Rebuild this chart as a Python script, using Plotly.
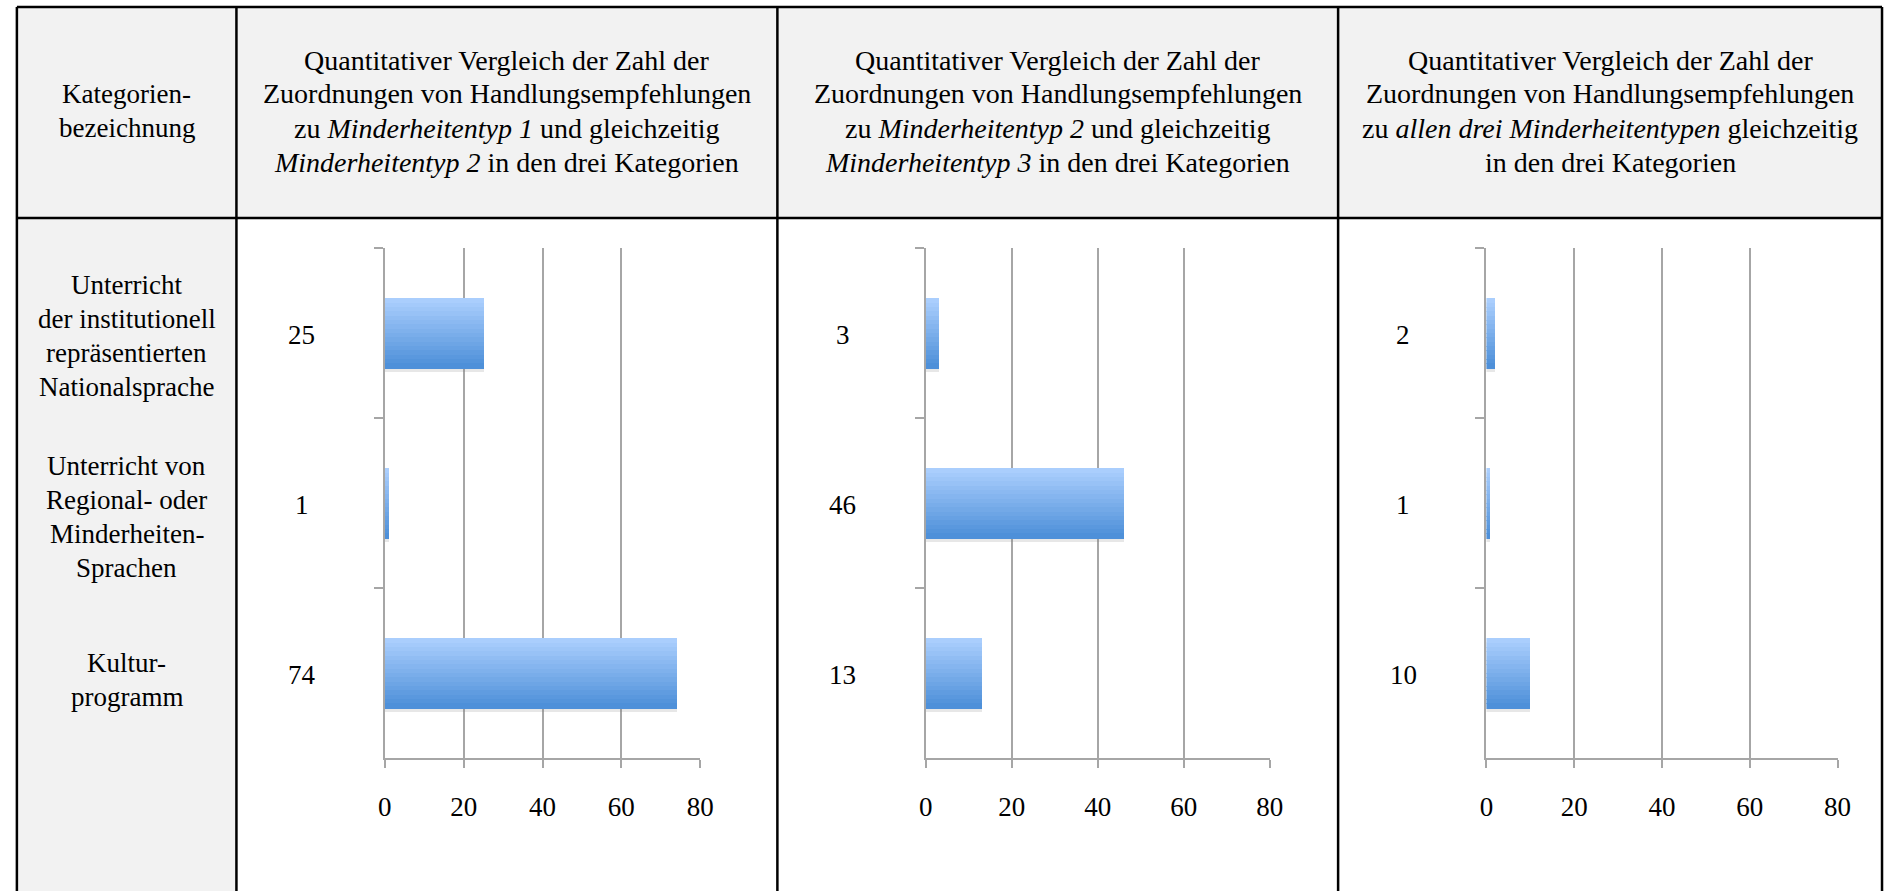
import plotly.graph_objects as go
from plotly.subplots import make_subplots

# data
categories = ['Unterricht der institutionell repräsentierten Nationalsprache',
              'Unterricht von Regional- oder Minderheiten-Sprachen',
              'Kulturprogramm']
typ_1_und_2 = [25, 1, 74]
typ_2_und_3 = [3, 46, 13]
alle_drei = [2, 1, 10]

row_labels = [['Unterricht', 'der institutionell', 'repräsentierten', 'Nationalsprache'],
              ['Unterricht von', 'Regional- oder', 'Minderheiten-', 'Sprachen'],
              ['Kultur-', 'programm']]
head_first = ['Kategorien-', 'bezeichnung']
head_titles = [
    ['Quantitativer Vergleich der Zahl der', 'Zuordnungen von Handlungsempfehlungen',
     'zu <i>Minderheitentyp 1</i> und gleichzeitig', '<i>Minderheitentyp 2</i> in den drei Kategorien'],
    ['Quantitativer Vergleich der Zahl der', 'Zuordnungen von Handlungsempfehlungen',
     'zu <i>Minderheitentyp 2</i> und gleichzeitig', '<i>Minderheitentyp 3</i> in den drei Kategorien'],
    ['Quantitativer Vergleich der Zahl der', 'Zuordnungen von Handlungsempfehlungen',
     'zu <i>allen drei Minderheitentypen</i> gleichzeitig', 'in den drei Kategorien'],
]
x_ticks = [0, 20, 40, 60, 80]

W, H = 1898, 891
FONT = '"Liberation Serif", "Times New Roman", Times, "DejaVu Serif", serif'
GRID = '#a6a6a6'

# pixel layout of the table / plots
col_edges = [10, 232, 779, 1346, 1896]
table_top, head_bottom = 7, 218
plot_x = [(382, 701), (929, 1277), (1496, 1851)]
plot_top, plot_bottom = 248, 758


def px(x):
    return x / W


def py(y):
    return 1 - y / H


fig = make_subplots(rows=1, cols=3)

series = [typ_1_und_2, typ_2_und_3, alle_drei]
bar_w = 0.41
n_strips = 16
top_rgb = (170, 206, 253)
bot_rgb = (78, 144, 217)

for k, vals in enumerate(series):
    col = k + 1
    # soft shadow under each bar
    fig.add_trace(go.Bar(x=vals, y=categories, orientation='h', width=bar_w, offset=-bar_w / 2 + 0.025,
                         marker=dict(color='rgba(120,120,120,0.18)', line_width=0),
                         showlegend=False, hoverinfo='skip'), row=1, col=col)
    # gradient built from thin strips (light on top, darker at the bottom)
    sw = bar_w / n_strips
    for i in range(n_strips):
        t = i / (n_strips - 1)
        c = tuple(round(top_rgb[j] + (bot_rgb[j] - top_rgb[j]) * t) for j in range(3))
        fig.add_trace(go.Bar(x=vals, y=categories, orientation='h', width=sw * 1.15,
                             offset=-bar_w / 2 + i * sw,
                             marker=dict(color='rgb(%d,%d,%d)' % c, line_width=0),
                             showlegend=False, hoverinfo='skip'), row=1, col=col)

    xa = 'xaxis' if k == 0 else 'xaxis%d' % col
    ya = 'yaxis' if k == 0 else 'yaxis%d' % col
    fig.update_layout({
        xa: dict(domain=[px(plot_x[k][0]), px(plot_x[k][1])], range=[0, 80], tickvals=x_ticks,
                 showgrid=True, gridcolor=GRID, gridwidth=2, zeroline=False,
                 showline=True, linecolor=GRID, linewidth=2,
                 ticks='outside', ticklen=8, tickwidth=2, tickcolor=GRID,
                 tickfont=dict(family=FONT, size=27, color='black'), ticklabelstandoff=16,
                 fixedrange=True),
        ya: dict(domain=[py(plot_bottom), py(plot_top)], categoryorder='array', categoryarray=categories,
                 autorange='reversed', showgrid=False, showline=True, linecolor=GRID, linewidth=2,
                 ticks='outside', tickson='boundaries', ticklen=9, tickwidth=2, tickcolor=GRID,
                 showticklabels=False, fixedrange=True),
    })
    # value labels to the left of each plot
    for cat, v in zip(categories, vals):
        fig.add_annotation(x=px(plot_x[k][0] - 84), xref='paper', y=cat, yref='y' if k == 0 else 'y%d' % col,
                           text=str(v), showarrow=False, xanchor='center', yanchor='middle', yshift=-2,
                           font=dict(family=FONT, size=27, color='black'))

fig.update_layout(barmode='overlay', bargap=0)


def text_block(lines, cx, cy, size=27, spacing=34):
    n = len(lines)
    for i, line in enumerate(lines):
        y = cy + (i - (n - 1) / 2) * spacing
        fig.add_annotation(x=px(cx), y=py(y), xref='paper', yref='paper', text=line, showarrow=False,
                           xanchor='center', yanchor='middle',
                           font=dict(family=FONT, size=size, color='black'))


# header texts
head_cy = 111
text_block(head_first, (col_edges[0] + col_edges[1]) / 2, head_cy)
for k, lines in enumerate(head_titles):
    text_block(lines, (col_edges[k + 1] + col_edges[k + 2]) / 2, head_cy, size=28)

# row labels in the first column
row_cy = [336, 517, 680]
for lines, cy in zip(row_labels, row_cy):
    text_block(lines, (col_edges[0] + col_edges[1]) / 2, cy)

# table background and lines
shapes = [
    dict(type='rect', xref='paper', yref='paper', x0=px(col_edges[0]), x1=px(col_edges[-1]),
         y0=py(head_bottom), y1=py(table_top), fillcolor='#f2f2f2', line_width=0, layer='below'),
    dict(type='rect', xref='paper', yref='paper', x0=px(col_edges[0]), x1=px(col_edges[1]),
         y0=0, y1=py(table_top), fillcolor='#f2f2f2', line_width=0, layer='below'),
    dict(type='line', xref='paper', yref='paper', x0=px(col_edges[0]), x1=px(col_edges[-1]),
         y0=py(table_top), y1=py(table_top), line=dict(color='black', width=2.5)),
    dict(type='line', xref='paper', yref='paper', x0=px(col_edges[0]), x1=px(col_edges[-1]),
         y0=py(head_bottom), y1=py(head_bottom), line=dict(color='black', width=2.5)),
]
for xe in col_edges:
    shapes.append(dict(type='line', xref='paper', yref='paper', x0=px(xe), x1=px(xe),
                       y0=0, y1=py(table_top), line=dict(color='black', width=2.5)))

fig.update_layout(
    width=W, height=H,
    margin=dict(l=0, r=0, t=0, b=0),
    paper_bgcolor='white', plot_bgcolor='rgba(0,0,0,0)',
    shapes=shapes,
    showlegend=False,
)

# drop the browser's default body margin so the figure fills the window exactly
fig.write_html('out.html', config={'displayModeBar': False},
               post_script="document.body.style.margin='0';document.body.style.overflow='hidden';")
